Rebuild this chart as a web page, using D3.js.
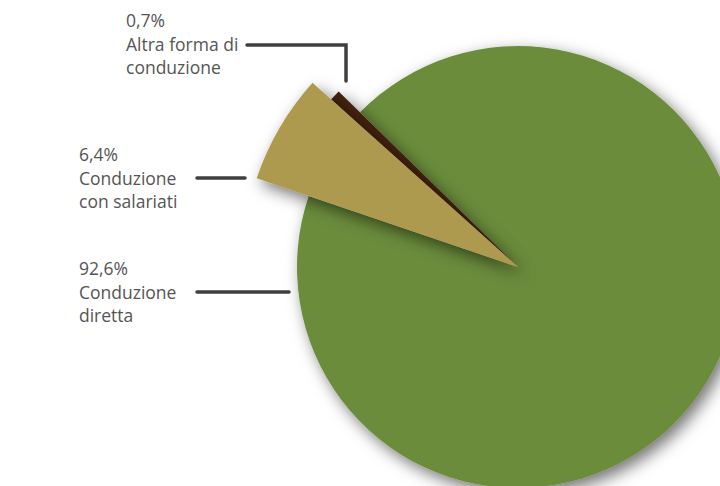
<!DOCTYPE html>
<html>
<head>
<meta charset="utf-8">
<script src="https://cdn.jsdelivr.net/npm/d3@7"></script>
<style>
  body { margin: 0; background: #fff; }
  text { font-family: "Open Sans", "Noto Sans", sans-serif; fill: #555; }
</style>
</head>
<body>
<div id="chart"></div>
<script>
// data
const categories = ['Conduzione diretta', 'Conduzione con salariati', 'Altra forma di conduzione']
const values = [92.6, 6.4, 0.7]
const valueLabels = ['92,6%', '6,4%', '0,7%']
const labelLines = [['Conduzione', 'diretta'], ['Conduzione', 'con salariati'], ['Altra forma di', 'conduzione']]

const width = 720,
  height = 486,
  cx = 518,
  cy = 267

// each slice pops out with its own radius
const radii = [221, 276, 251]
const colors = ['#6a8c3b', '#ad9a4f', '#45200f']

let svg = d3.select('#chart')
  .append('svg')
  .attr('width', width)
  .attr('height', height)

let defs = svg.append('defs')
let shadow = defs.append('filter')
  .attr('id', 'shadow')
  .attr('x', '-30%').attr('y', '-30%')
  .attr('width', '160%').attr('height', '160%')
shadow.append('feDropShadow')
  .attr('dx', 5).attr('dy', 6)
  .attr('stdDeviation', 8)
  .attr('flood-color', '#000')
  .attr('flood-opacity', 0.55)

let pie = d3.pie()
  .sort(null)
  .startAngle(-45.6 * Math.PI / 180)
  .endAngle((360 - 45.6) * Math.PI / 180)

let arcs = pie(values)

let g = svg.append('g')
  .attr('transform', `translate(${cx},${cy})`)

// draw green first, then dark, then tan on top
let order = [0, 2, 1]
g.selectAll('path')
  .data(order.map(i => ({ a: arcs[i], i: i })))
  .enter()
  .append('path')
  .attr('d', d => d3.arc().innerRadius(0).outerRadius(radii[d.i])(d.a))
  .attr('fill', d => colors[d.i])
  .attr('filter', 'url(#shadow)')

// labels
const labelX = [79, 79, 126]
const labelY = [275, 161, 27]
const lineH = 23.5

categories.forEach((c, i) => {
  let t = svg.append('text')
    .attr('x', labelX[i])
    .attr('y', labelY[i])
    .style('font-size', '17.5px')
  t.append('tspan').attr('x', labelX[i]).attr('dy', 0).text(valueLabels[i])
  labelLines[i].forEach(l => {
    t.append('tspan').attr('x', labelX[i]).attr('dy', lineH).text(l)
  })
})

// leader lines
const leaders = [
  [[197, 292], [289, 292]],
  [[197, 178], [245, 178]],
  [[247, 45], [346, 45], [346, 81]]
]
svg.selectAll('.leader')
  .data(leaders)
  .enter()
  .append('path')
  .attr('class', 'leader')
  .attr('d', d3.line())
  .attr('fill', 'none')
  .attr('stroke', '#3f3f3f')
  .attr('stroke-width', 3.5)
  .attr('stroke-linecap', 'round')
</script>
</body>
</html>
